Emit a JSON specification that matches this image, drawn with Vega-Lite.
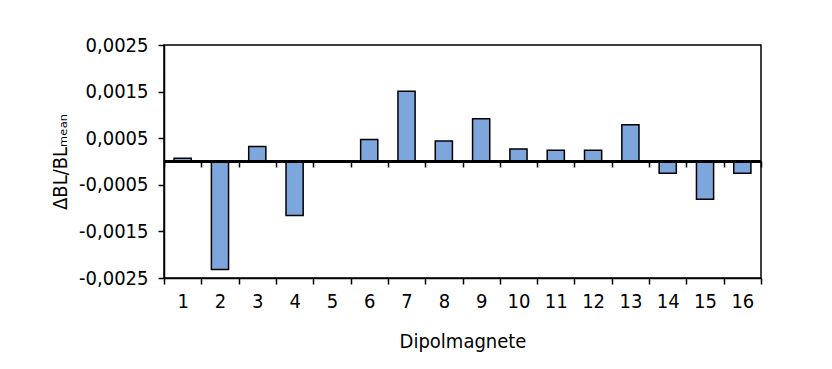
{
  "$schema": "https://vega.github.io/schema/vega-lite/v6.json",
  "width": 597,
  "height": 233,
  "autosize": {"type": "none"},
  "padding": {"left": 164, "top": 45, "right": 71, "bottom": 91},
  "background": "white",
  "config": {
    "font": "DejaVu Sans Condensed",
    "view": {"stroke": "black", "strokeWidth": 1.5},
    "axis": {
      "labelFont": "DejaVu Sans Condensed",
      "titleFont": "DejaVu Sans Condensed",
      "labelColor": "black",
      "titleColor": "black",
      "labelFontSize": 20,
      "titleFontSize": 20,
      "titleFontWeight": "normal",
      "domainColor": "black",
      "domainWidth": 1.5,
      "tickColor": "black",
      "tickWidth": 1.5,
      "grid": false
    }
  },
  "data": {
    "values": [
      {"magnet": 1, "value": 0.00007},
      {"magnet": 2, "value": -0.00232},
      {"magnet": 3, "value": 0.00032},
      {"magnet": 4, "value": -0.00116},
      {"magnet": 5, "value": 0},
      {"magnet": 6, "value": 0.00047},
      {"magnet": 7, "value": 0.00151},
      {"magnet": 8, "value": 0.00044},
      {"magnet": 9, "value": 0.00092},
      {"magnet": 10, "value": 0.00027},
      {"magnet": 11, "value": 0.00024},
      {"magnet": 12, "value": 0.00024},
      {"magnet": 13, "value": 0.00079},
      {"magnet": 14, "value": -0.00025},
      {"magnet": 15, "value": -0.00081},
      {"magnet": 16, "value": -0.00025}
    ]
  },
  "layer": [
    {
      "mark": {"type": "bar", "fill": "#7CA6DC", "stroke": "black", "strokeWidth": 1.5, "width": {"band": 0.46}},
      "encoding": {
        "x": {
          "field": "magnet",
          "type": "ordinal",
          "scale": {"paddingInner": 0, "paddingOuter": 0},
          "axis": {
            "orient": "bottom",
            "title": "Dipolmagnete",
            "labelAngle": 0,
            "tickBand": "extent",
            "tickSize": 6,
            "labelPadding": 7,
            "titlePadding": 20
          }
        },
        "y": {
          "field": "value",
          "type": "quantitative",
          "scale": {"domain": [-0.0025, 0.0025], "nice": false, "zero": false},
          "axis": {
            "title": "ΔBL/BLₘₑₐₙ",
            "values": [-0.0025, -0.0015, -0.0005, 0.0005, 0.0015, 0.0025],
            "labelExpr": "replace(replace(format(datum.value, '.4f'), '.', ','), '−', '-')",
            "tickSize": 6,
            "labelPadding": 10,
            "titlePadding": 8
          }
        }
      }
    },
    {
      "mark": {"type": "bar", "opacity": 0},
      "encoding": {
        "x": {
          "field": "magnet",
          "type": "ordinal",
          "axis": {
            "orient": "top",
            "offset": -116,
            "domain": false,
            "labels": false,
            "title": null,
            "tickBand": "extent",
            "tickSize": -6
          }
        },
        "y": {"field": "value", "type": "quantitative"}
      }
    },
    {
      "mark": {"type": "rule", "color": "black", "strokeWidth": 1.5},
      "encoding": {"y": {"datum": 0}}
    }
  ],
  "resolve": {"axis": {"x": "independent"}}
}
